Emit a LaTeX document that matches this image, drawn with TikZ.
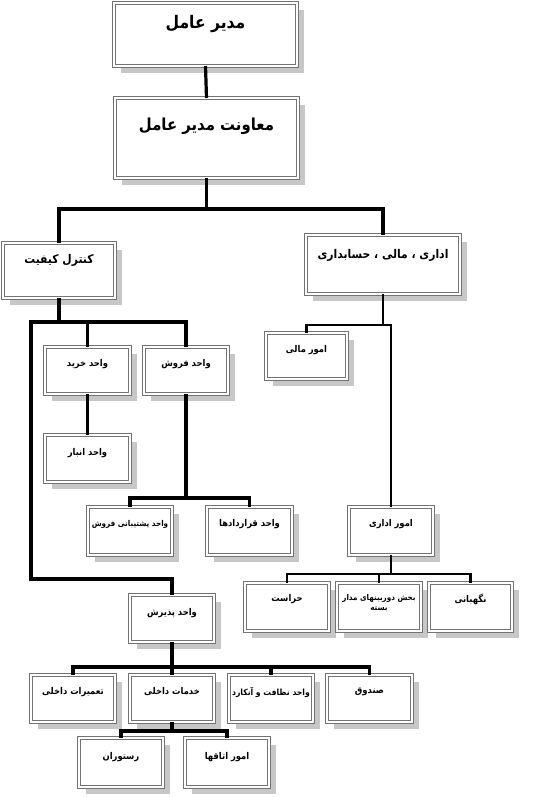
\documentclass[tikz,border=0pt]{standalone}
\usepackage{fontspec}
\newfontfamily\arfont[Script=Arabic]{DejaVu Sans Condensed}
\TeXXeTstate=1
\usetikzlibrary{shadows}
\tikzset{
 obox/.style={draw=black!55, line width=1pt, double=white, double distance=0.8pt, fill=white, inner sep=0pt, outer sep=0pt,
   drop shadow={shadow xshift=5.3pt, shadow yshift=-5.3pt, fill=black!22, opacity=1}},
 lbl/.style={font=\arfont\bfseries\fontsize{7}{8.5}\selectfont, inner sep=0pt, align=center},
 lblsmall/.style={font=\arfont\bfseries\fontsize{6.4}{8}\selectfont},
 lbltiny/.style={font=\arfont\bfseries\fontsize{6}{7.6}\selectfont},
 lblbig/.style={font=\arfont\bfseries\fontsize{9}{11}\selectfont},
 lblhuge/.style={font=\arfont\bfseries\fontsize{13}{14}\selectfont},
 lblhugeb/.style={font=\arfont\bfseries\fontsize{12.4}{14}\selectfont},
 conn/.style={line width=2.4pt, black},
 connthin/.style={line width=1.7pt, black},
}
\newcommand\obox[8][]{\node[obox, anchor=north west, minimum width={(#5-#3)*0.75pt}, minimum height={(#6-#4)*0.75pt},
  label={[lbl,anchor=center,yshift={-(#7)*0.75pt},#1]north:{#8}}] (#2) at (#3,#4) {};}
\newcommand\rl[1]{\beginR #1\endR}
\begin{document}
\begin{tikzpicture}[x=0.75pt,y=-0.75pt]
\useasboundingbox (0,0) rectangle (558,797);
% boxes
\obox[lblhuge]{ceo}{114}{3}{297}{66}{21}{\rl{مدیر عامل}}
\obox[lblhugeb]{dep}{115}{98}{298}{178}{28}{\rl{معاونت مدیر عامل}}
\obox[lblbig]{qc}{3}{243}{115}{298}{17}{\rl{کنترل کیفیت}}
\obox[lblbig]{adm}{306}{235}{460}{294}{20}{\rl{اداری ، مالی ، حسابداری}}
\obox{buy}{45}{347}{130}{394}{17}{\rl{واحد خرید}}
\obox{sales}{144}{347}{228}{394}{17}{\rl{واحد فروش}}
\obox{mali}{266}{333}{347}{379}{17}{\rl{امور مالی}}
\obox{anbar}{45}{435}{130}{482}{18}{\rl{واحد انبار}}
\obox[lbltiny]{support}{88}{507}{172}{555}{17}{\rl{واحد پشتیبانی فروش}}
\obox{contracts}{207}{507}{292}{555}{17}{\rl{واحد قراردادها}}
\obox{edari}{349}{507}{433}{555}{17}{\rl{امور اداری}}
\obox{harasat}{245}{583}{329}{631}{16}{\rl{حراست}}
\obox[lbltiny]{cctv}{337}{583}{421}{631}{20}{\rl{بخش دوربینهای مدار}\\\rl{بسته}}
\obox{neg}{429}{583}{512}{631}{16}{\rl{نگهبانی}}
\obox{pz}{130}{595}{214}{642}{18}{\rl{واحد پذیرش}}
\obox{tamirat}{31}{675}{115}{722}{17}{\rl{تعمیرات داخلی}}
\obox{khadamat}{130}{675}{214}{722}{17}{\rl{خدمات داخلی}}
\obox[lblsmall]{nezafat}{229}{675}{313}{722}{17}{\rl{واحد نظافت و آنکارد}}
\obox{sandogh}{327}{675}{412}{722}{17}{\rl{صندوق}}
\obox{restoran}{79}{738}{163}{787}{19}{\rl{رستوران}}
\obox{otagh}{185}{738}{269}{787}{19}{\rl{امور اتاقها}}
% connectors
\draw[conn] (ceo.south) -- (dep.north);
\draw[conn] (dep.south) -- (dep.south |- 0,209);
\draw[conn] (qc.north) -- (qc.north |- 0,209) -| (adm.north);
\draw[conn] (qc.south) -- (qc.south |- 0,322);
\draw[conn] (pz.north) |- (31,579) -- (31,322) -| (sales.north);
\draw[conn] (buy.north) -- (buy.north |- 0,322);
\draw[conn] (buy.south) -- (anbar.north);
\draw[conn] (sales.south) -- (sales.south |- 0,498);
\draw[conn] (support.north) -- (support.north |- 0,498) -| (contracts.north);
\draw[connthin] (adm.south) -- (adm.south |- 0,325);
\draw[connthin] (mali.north) -- (mali.north |- 0,325) -| (edari.north);
\draw[connthin] (edari.south) -- (edari.south |- 0,574);
\draw[connthin] (harasat.north) -- (harasat.north |- 0,574) -| (neg.north);
\draw[connthin] (cctv.north) -- (cctv.north |- 0,574);
\draw[conn] (pz.south) -- (pz.south |- 0,667);
\draw[conn] (tamirat.north) -- (tamirat.north |- 0,667) -| (sandogh.north);
\draw[conn] (khadamat.north) -- (khadamat.north |- 0,667);
\draw[conn] (nezafat.north) -- (nezafat.north |- 0,667);
\draw[conn] (khadamat.south) -- (khadamat.south |- 0,731);
\draw[conn] (restoran.north) -- (restoran.north |- 0,731) -| (otagh.north);
\end{tikzpicture}
\end{document}
